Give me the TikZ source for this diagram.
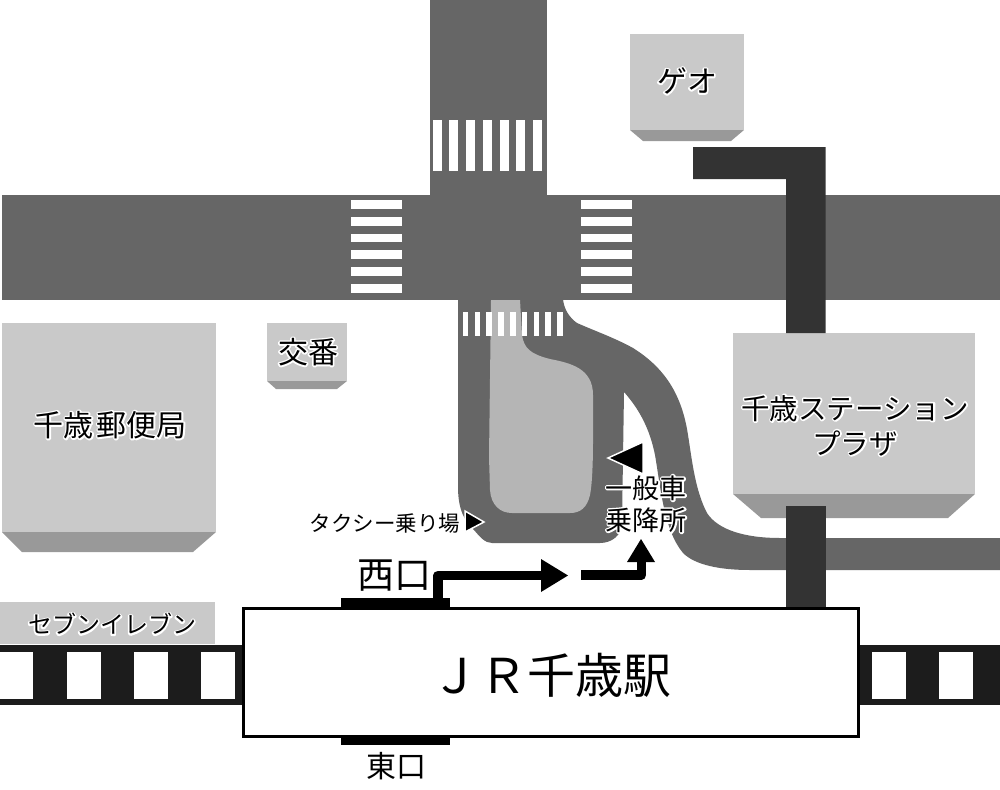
\documentclass[tikz,border=0pt]{standalone}
\usepackage{fontspec}
\setmainfont{Noto Sans CJK JP}
\definecolor{road}{HTML}{666666}
\definecolor{walk}{HTML}{333333}
\definecolor{bld}{HTML}{C9C9C9}
\definecolor{bldside}{HTML}{999999}
\definecolor{isle}{HTML}{B5B5B5}
\definecolor{rail}{HTML}{1C1C1C}
\newcommand{\halo}[1]{\leavevmode\rlap{\special{pdf:code q 1 Tr 3.2 w 1 j 1 1 1 RG 1 1 1 rg}#1\special{pdf:code Q}}#1}
\tikzset{
  x=1pt,y=-1pt,
  roadfill/.style={fill=road,draw=none},
  zebra/.style={fill=white,draw=none},
  bldtop/.style={fill=bld,draw=none},
  bldbot/.style={fill=bldside,draw=none},
  walkway/.style={fill=walk,draw=none},
  railbed/.style={fill=rail,draw=none},
  win/.style={fill=white,draw=none},
  doorbar/.style={fill=black,draw=none},
  lbl/.style={inner sep=0pt,outer sep=0pt,text=black,align=center},
  mark tri/.style={fill=black,draw=white,line width=1.5pt,line join=miter},
  route/.style={draw=black,line width=9.5pt,line join=round}
}
\begin{document}
\begin{tikzpicture}
\useasboundingbox (0,0) rectangle (1000,789);
\fill[white] (0,0) rectangle (1000,789);
% roads
\path[roadfill] (2,195) rectangle (1000,300);
\path[roadfill] (430,0) rectangle (547,196);
\path[roadfill] (458,299) -- (458,487)
  .. controls (458,510) and (465,522) .. (474,530)
  .. controls (480,537) and (485,543) .. (492,543)
  -- (600,543) .. controls (612,543) and (622,535) .. (622,523)
  -- (624,392)
  .. controls (640,410) and (650,430) .. (655,455)
  .. controls (661,490) and (664,530) .. (683,553)
  .. controls (695,565) and (720,570) .. (750,570)
  -- (1000,570) -- (1000,538) -- (780,538)
  .. controls (745,538) and (718,530) .. (707,513)
  .. controls (695,490) and (692,460) .. (688,435)
  .. controls (682,395) and (665,368) .. (633,348)
  .. controls (615,338) and (595,331) .. (577,323)
  .. controls (570,318) and (564,310) .. (563,299) -- cycle;
% island
\path[fill=isle] (491,300) -- (520,300) -- (522,335)
  .. controls (524,348) and (530,354) .. (550,359)
  .. controls (570,363) and (593,368) .. (593,395)
  -- (593,440) .. controls (593,465) and (592,485) .. (590,495)
  .. controls (587,508) and (580,513) .. (570,513)
  -- (512,513) .. controls (500,513) and (491,505) .. (490,490)
  -- (489,457) -- cycle;
% zebra crossings
\foreach \i in {0,...,6} \path[zebra] ({432.7+\i*16.75},120) rectangle ++(9,50.7);
\foreach \i in {0,...,5} {
  \path[zebra] (351.3,{200+\i*16.8}) rectangle ++(51,8.8);
  \path[zebra] (581,{200+\i*16.8}) rectangle ++(50.7,8.8);
}
\foreach \i in {0,...,8} \path[zebra] ({462.7+\i*11.8},312) rectangle ++(5.7,24);
% buildings
\path[bldtop] (630,34) rectangle (744,130);
\path[bldbot] (630,130) -- (744,130) -- (731,141) -- (643,141) -- cycle;
\path[bldtop] (733,333) rectangle (975,494);
\path[bldbot] (733,494) -- (975,494) -- (948,518) -- (761,518) -- cycle;
\path[bldtop] (2,323) rectangle (216,532);
\path[bldbot] (2,532) -- (216,532) -- (193,552) -- (22,552) -- cycle;
\path[bldtop] (267,323) rectangle (347,381);
\path[bldbot] (267,381) -- (347,381) -- (337,389) -- (276,389) -- cycle;
\path[bldtop] (0,602) rectangle (215,644);
% walkways
\path[walkway] (693,147) -- (825.5,147) -- (825.5,333) -- (786,333) -- (786,179) -- (693,179) -- cycle;
\path[walkway] (786,506) rectangle (825.5,608);
% rails
\path[railbed] (0,645) rectangle (244,705);
\path[railbed] (859,645) rectangle (1000,705);
\foreach \x in {-1,67,134,201} \path[win] (\x,652) rectangle ++(34,47);
\foreach \x in {872,939} \path[win] (\x,652) rectangle ++(34,47);
% station
\node[draw=black,fill=white,line width=3pt,minimum width=615.5pt,minimum height=128pt,inner sep=0pt] (station) at (550.9,672.2) {};
\node[lbl,font=\fontsize{48}{52}\selectfont] (stationlabel) at (551,675) {ＪＲ千歳駅};
% doors
\path[doorbar] (340.5,598) rectangle (450,607);
\path[doorbar] (340.5,737) rectangle (450,745);
% routes
\coordinate (r1a) at (438,600);
\coordinate (r1b) at (438,575.5);
\coordinate (r1c) at (545,575.5);
\draw[route] (r1a) -- (r1b) -- (r1c);
\path[fill=black] (541,559) -- (568,575.5) -- (541,592) -- cycle;
\coordinate (r2a) at (581,575);
\coordinate (r2b) at (641.5,575);
\coordinate (r2c) at (641.5,558);
\draw[route] (r2a) -- (r2b) -- (r2c);
\path[fill=black] (627,562) -- (641,539) -- (655,562) -- cycle;
% markers
\path[mark tri] (608,458) -- (643,442) -- (643,474) -- cycle;
\path[mark tri] (465,511) -- (484,522) -- (465,532) -- cycle;
% labels
\node[lbl,font=\fontsize{30}{32}\selectfont] (geo) at (687,81) {\halo{ゲオ}};
\node[lbl,font=\fontsize{28.5}{35}\selectfont] (plaza) at (855,425.5) {\halo{千歳ステーション}\\\halo{プラザ}};
\node[lbl,font=\fontsize{30}{32}\selectfont] (post) at (110,425) {\halo{千歳\hspace{3pt}郵便局}};
\node[lbl,font=\fontsize{30}{32}\selectfont] (koban) at (308,352) {\halo{交番}};
\node[lbl,font=\fontsize{24}{28}\selectfont] (seven) at (112,624) {\halo{セブンイレブン}};
\node[lbl,font=\fontsize{21.5}{24}\selectfont] (taxi) at (385,523) {タクシー乗り場};
\node[lbl,font=\fontsize{27}{32}\selectfont] (general) at (646,504) {\halo{一般車}\\\halo{乗降所}};
\node[lbl,font=\fontsize{37}{40}\selectfont] (west) at (394,576) {西口};
\node[lbl,font=\fontsize{30}{32}\selectfont] (east) at (396,766) {東口};
\end{tikzpicture}
\end{document}
